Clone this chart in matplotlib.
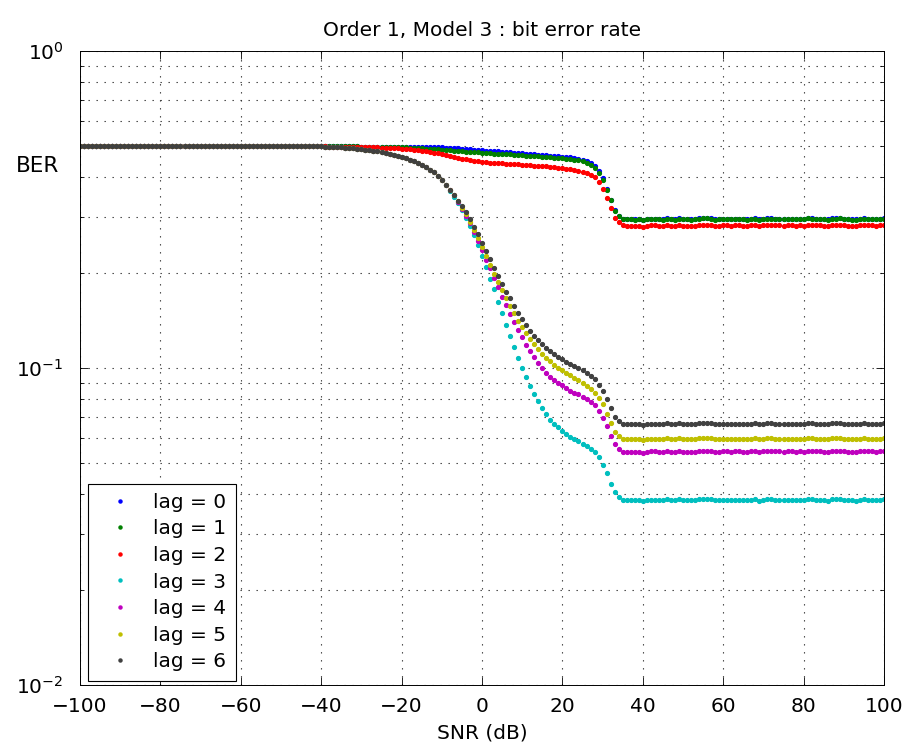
import matplotlib
matplotlib.use("Agg")
import matplotlib.pyplot as plt
from matplotlib.ticker import LogLocator, MultipleLocator, NullFormatter, LogFormatterSciNotation

plt.rcParams["font.family"] = ["DejaVu Sans"]
plt.rcParams["mathtext.fontset"] = "dejavusans"

# SNR grid (dB), one point per dB
snr = list(range(-100, 101))

# BER curves
ber_flat = [0.5] * 60  # -100 .. -41 dB, all lags sit at 0.5

ber_lag0 = ber_flat + [
    0.5000, 0.5000, 0.5000, 0.5000, 0.5000, 0.5000, 0.5000, 0.5000, 0.5000, 0.5000,
    0.4996, 0.4996, 0.4996, 0.4993, 0.4993, 0.4993, 0.4993, 0.4989, 0.4989, 0.4989,
    0.4989, 0.4985, 0.4985, 0.4985, 0.4982, 0.4982, 0.4978, 0.4978, 0.4975, 0.4971,
    0.4967, 0.4960, 0.4953, 0.4946, 0.4935, 0.4924, 0.4913, 0.4899, 0.4888, 0.4874,
    0.4863, 0.4853, 0.4842, 0.4832, 0.4822, 0.4811, 0.4801, 0.4790, 0.4780, 0.4770,
    0.4759, 0.4749, 0.4739, 0.4725, 0.4715, 0.4705, 0.4695, 0.4681, 0.4671, 0.4661,
    0.4646, 0.4633, 0.4619, 0.4596, 0.4573, 0.4546, 0.4497, 0.4433, 0.4338, 0.4197,
    0.3974, 0.3670, 0.3387, 0.3150, 0.3027, 0.2961,
] + [
    0.2951, 0.2951, 0.2945, 0.2951, 0.2930, 0.2951, 0.2957, 0.2957, 0.2951, 0.2945,
    0.2966, 0.2951, 0.2945, 0.2966, 0.2951, 0.2951, 0.2945, 0.2951, 0.2966, 0.2972,
    0.2972, 0.2966, 0.2945, 0.2951, 0.2957, 0.2957, 0.2951, 0.2957, 0.2957, 0.2951,
    0.2945, 0.2957, 0.2966, 0.2942, 0.2957, 0.2966, 0.2966, 0.2957, 0.2957, 0.2951,
    0.2957, 0.2957, 0.2951, 0.2957, 0.2951, 0.2972, 0.2966, 0.2957, 0.2957, 0.2951,
    0.2942, 0.2966, 0.2966, 0.2972, 0.2957, 0.2951, 0.2945, 0.2942, 0.2957, 0.2966,
    0.2957, 0.2957, 0.2951, 0.2957, 0.2966,
]

ber_lag1 = ber_flat + [
    0.5000, 0.5000, 0.5000, 0.5000, 0.5000, 0.5000, 0.5000, 0.5000, 0.5000, 0.5000,
    0.4996, 0.4996, 0.4993, 0.4993, 0.4989, 0.4989, 0.4985, 0.4982, 0.4978, 0.4975,
    0.4971, 0.4964, 0.4957, 0.4949, 0.4942, 0.4935, 0.4924, 0.4913, 0.4903, 0.4892,
    0.4881, 0.4870, 0.4860, 0.4849, 0.4839, 0.4828, 0.4818, 0.4807, 0.4797, 0.4787,
    0.4776, 0.4766, 0.4756, 0.4749, 0.4742, 0.4732, 0.4725, 0.4718, 0.4708, 0.4701,
    0.4691, 0.4681, 0.4671, 0.4661, 0.4650, 0.4640, 0.4630, 0.4620, 0.4610, 0.4596,
    0.4587, 0.4573, 0.4560, 0.4544, 0.4521, 0.4488, 0.4442, 0.4369, 0.4265, 0.4113,
    0.3904, 0.3643, 0.3376, 0.3139, 0.3016, 0.2951,
] + [
    0.2945, 0.2945, 0.2939, 0.2945, 0.2924, 0.2945, 0.2951, 0.2951, 0.2945, 0.2939,
    0.2960, 0.2945, 0.2939, 0.2960, 0.2945, 0.2945, 0.2939, 0.2945, 0.2960, 0.2966,
    0.2966, 0.2960, 0.2939, 0.2945, 0.2951, 0.2951, 0.2945, 0.2951, 0.2951, 0.2945,
    0.2939, 0.2951, 0.2960, 0.2936, 0.2951, 0.2960, 0.2960, 0.2951, 0.2951, 0.2945,
    0.2951, 0.2951, 0.2945, 0.2951, 0.2945, 0.2966, 0.2960, 0.2951, 0.2951, 0.2945,
    0.2936, 0.2960, 0.2960, 0.2966, 0.2951, 0.2945, 0.2939, 0.2936, 0.2951, 0.2960,
    0.2951, 0.2951, 0.2945, 0.2951, 0.2960,
]

ber_lag2 = ber_flat + [
    0.5000, 0.5000, 0.4996, 0.4996, 0.4996, 0.4993, 0.4993, 0.4989, 0.4989, 0.4985,
    0.4982, 0.4978, 0.4975, 0.4971, 0.4967, 0.4960, 0.4953, 0.4946, 0.4938, 0.4928,
    0.4917, 0.4906, 0.4892, 0.4878, 0.4860, 0.4842, 0.4822, 0.4801, 0.4776, 0.4752,
    0.4725, 0.4698, 0.4667, 0.4637, 0.4607, 0.4580, 0.4554, 0.4530, 0.4511, 0.4491,
    0.4475, 0.4462, 0.4449, 0.4439, 0.4430, 0.4420, 0.4414, 0.4407, 0.4401, 0.4391,
    0.4382, 0.4372, 0.4363, 0.4353, 0.4344, 0.4334, 0.4322, 0.4312, 0.4300, 0.4287,
    0.4275, 0.4259, 0.4241, 0.4219, 0.4192, 0.4158, 0.4116, 0.4066, 0.3992, 0.3861,
    0.3662, 0.3437, 0.3196, 0.2983, 0.2886, 0.2824,
] + [
    0.2811, 0.2811, 0.2805, 0.2811, 0.2791, 0.2811, 0.2817, 0.2817, 0.2811, 0.2805,
    0.2825, 0.2811, 0.2805, 0.2825, 0.2811, 0.2811, 0.2805, 0.2811, 0.2825, 0.2831,
    0.2831, 0.2825, 0.2805, 0.2811, 0.2817, 0.2817, 0.2811, 0.2817, 0.2817, 0.2811,
    0.2805, 0.2817, 0.2825, 0.2803, 0.2817, 0.2825, 0.2825, 0.2817, 0.2817, 0.2811,
    0.2817, 0.2817, 0.2811, 0.2817, 0.2811, 0.2831, 0.2825, 0.2817, 0.2817, 0.2811,
    0.2803, 0.2825, 0.2825, 0.2831, 0.2817, 0.2811, 0.2805, 0.2803, 0.2817, 0.2825,
    0.2817, 0.2817, 0.2811, 0.2817, 0.2825,
]

ber_lag3 = ber_flat + [
    0.5000, 0.4996, 0.4993, 0.4985, 0.4978, 0.4971, 0.4960, 0.4949, 0.4939, 0.4924,
    0.4906, 0.4888, 0.4870, 0.4849, 0.4825, 0.4800, 0.4773, 0.4742, 0.4707, 0.4670,
    0.4630, 0.4587, 0.4540, 0.4491, 0.4433, 0.4369, 0.4300, 0.4223, 0.4138, 0.4035,
    0.3905, 0.3765, 0.3617, 0.3462, 0.3315, 0.3150, 0.2983, 0.2804, 0.2621, 0.2443,
    0.2260, 0.2087, 0.1912, 0.1771, 0.1618, 0.1487, 0.1366, 0.1261, 0.1162, 0.1077,
    0.1002, 0.0934, 0.0879, 0.0828, 0.0785, 0.0748, 0.0717, 0.0685, 0.0667, 0.0650,
    0.0631, 0.0618, 0.0606, 0.0597, 0.0587, 0.0577, 0.0567, 0.0554, 0.0542, 0.0522,
    0.0494, 0.0465, 0.0431, 0.0406, 0.0393, 0.0384,
] + [
    0.03830, 0.03830, 0.03822, 0.03830, 0.03803, 0.03830, 0.03838, 0.03838, 0.03830, 0.03822,
    0.03849, 0.03830, 0.03822, 0.03849, 0.03830, 0.03830, 0.03822, 0.03830, 0.03849, 0.03857,
    0.03857, 0.03849, 0.03822, 0.03830, 0.03838, 0.03838, 0.03830, 0.03838, 0.03838, 0.03830,
    0.03822, 0.03838, 0.03849, 0.03819, 0.03838, 0.03849, 0.03849, 0.03838, 0.03838, 0.03830,
    0.03838, 0.03838, 0.03830, 0.03838, 0.03830, 0.03857, 0.03849, 0.03838, 0.03838, 0.03830,
    0.03819, 0.03849, 0.03849, 0.03857, 0.03838, 0.03830, 0.03822, 0.03819, 0.03838, 0.03849,
    0.03838, 0.03838, 0.03830, 0.03838, 0.03849,
]

ber_lag4 = ber_flat + [
    0.5000, 0.4996, 0.4993, 0.4985, 0.4978, 0.4971, 0.4960, 0.4949, 0.4939, 0.4924,
    0.4906, 0.4888, 0.4870, 0.4849, 0.4825, 0.4800, 0.4773, 0.4742, 0.4707, 0.4670,
    0.4630, 0.4587, 0.4540, 0.4491, 0.4433, 0.4369, 0.4300, 0.4223, 0.4138, 0.4035,
    0.3905, 0.3765, 0.3643, 0.3505, 0.3351, 0.3185, 0.3027, 0.2867, 0.2685, 0.2515,
    0.2356, 0.2199, 0.2063, 0.1927, 0.1797, 0.1678, 0.1576, 0.1483, 0.1396, 0.1320,
    0.1249, 0.1182, 0.1131, 0.1086, 0.1039, 0.0998, 0.0966, 0.0937, 0.0916, 0.0900,
    0.0884, 0.0863, 0.0848, 0.0835, 0.0826, 0.0812, 0.0798, 0.0781, 0.0764, 0.0733,
    0.0697, 0.0656, 0.0610, 0.0574, 0.0556, 0.0545,
] + [
    0.05450, 0.05450, 0.05439, 0.05450, 0.05412, 0.05450, 0.05461, 0.05461, 0.05450, 0.05439,
    0.05477, 0.05450, 0.05439, 0.05477, 0.05450, 0.05450, 0.05439, 0.05450, 0.05477, 0.05488,
    0.05488, 0.05477, 0.05439, 0.05450, 0.05461, 0.05461, 0.05450, 0.05461, 0.05461, 0.05450,
    0.05439, 0.05461, 0.05477, 0.05434, 0.05461, 0.05477, 0.05477, 0.05461, 0.05461, 0.05450,
    0.05461, 0.05461, 0.05450, 0.05461, 0.05450, 0.05488, 0.05477, 0.05461, 0.05461, 0.05450,
    0.05434, 0.05477, 0.05477, 0.05488, 0.05461, 0.05450, 0.05439, 0.05434, 0.05461, 0.05477,
    0.05461, 0.05461, 0.05450, 0.05461, 0.05477,
]

ber_lag5 = ber_flat + [
    0.5000, 0.4996, 0.4993, 0.4985, 0.4978, 0.4971, 0.4960, 0.4949, 0.4939, 0.4924,
    0.4906, 0.4888, 0.4870, 0.4849, 0.4825, 0.4800, 0.4773, 0.4742, 0.4707, 0.4670,
    0.4630, 0.4587, 0.4540, 0.4491, 0.4433, 0.4369, 0.4300, 0.4223, 0.4138, 0.4035,
    0.3905, 0.3765, 0.3643, 0.3505, 0.3360, 0.3208, 0.3060, 0.2898, 0.2734, 0.2570,
    0.2408, 0.2256, 0.2120, 0.1986, 0.1871, 0.1762, 0.1659, 0.1569, 0.1487, 0.1410,
    0.1350, 0.1286, 0.1232, 0.1188, 0.1145, 0.1107, 0.1077, 0.1050, 0.1024, 0.1002,
    0.0983, 0.0964, 0.0948, 0.0930, 0.0914, 0.0899, 0.0879, 0.0857, 0.0835, 0.0802,
    0.0770, 0.0717, 0.0670, 0.0629, 0.0610, 0.0597,
] + [
    0.05970, 0.05970, 0.05958, 0.05970, 0.05928, 0.05970, 0.05982, 0.05982, 0.05970, 0.05958,
    0.06000, 0.05970, 0.05958, 0.06000, 0.05970, 0.05970, 0.05958, 0.05970, 0.06000, 0.06012,
    0.06012, 0.06000, 0.05958, 0.05970, 0.05982, 0.05982, 0.05970, 0.05982, 0.05982, 0.05970,
    0.05958, 0.05982, 0.06000, 0.05952, 0.05982, 0.06000, 0.06000, 0.05982, 0.05982, 0.05970,
    0.05982, 0.05982, 0.05970, 0.05982, 0.05970, 0.06012, 0.06000, 0.05982, 0.05982, 0.05970,
    0.05952, 0.06000, 0.06000, 0.06012, 0.05982, 0.05970, 0.05958, 0.05952, 0.05982, 0.06000,
    0.05982, 0.05982, 0.05970, 0.05982, 0.06000,
]

ber_lag6 = ber_flat + [
    0.5000, 0.4996, 0.4993, 0.4985, 0.4978, 0.4971, 0.4960, 0.4949, 0.4939, 0.4924,
    0.4906, 0.4888, 0.4870, 0.4849, 0.4825, 0.4800, 0.4773, 0.4742, 0.4707, 0.4670,
    0.4630, 0.4587, 0.4540, 0.4491, 0.4433, 0.4369, 0.4300, 0.4223, 0.4138, 0.4035,
    0.3905, 0.3765, 0.3643, 0.3505, 0.3368, 0.3232, 0.3098, 0.2945, 0.2789, 0.2638,
    0.2486, 0.2338, 0.2201, 0.2070, 0.1949, 0.1843, 0.1739, 0.1657, 0.1567, 0.1489,
    0.1423, 0.1362, 0.1310, 0.1263, 0.1224, 0.1189, 0.1157, 0.1130, 0.1105, 0.1084,
    0.1064, 0.1045, 0.1030, 0.1015, 0.0998, 0.0984, 0.0965, 0.0942, 0.0922, 0.0887,
    0.0845, 0.0798, 0.0749, 0.0700, 0.0680, 0.0666,
] + [
    0.06660, 0.06660, 0.06647, 0.06660, 0.06613, 0.06660, 0.06673, 0.06673, 0.06660, 0.06647,
    0.06693, 0.06660, 0.06647, 0.06693, 0.06660, 0.06660, 0.06647, 0.06660, 0.06693, 0.06707,
    0.06707, 0.06693, 0.06647, 0.06660, 0.06673, 0.06673, 0.06660, 0.06673, 0.06673, 0.06660,
    0.06647, 0.06673, 0.06693, 0.06640, 0.06673, 0.06693, 0.06693, 0.06673, 0.06673, 0.06660,
    0.06673, 0.06673, 0.06660, 0.06673, 0.06660, 0.06707, 0.06693, 0.06673, 0.06673, 0.06660,
    0.06640, 0.06693, 0.06693, 0.06707, 0.06673, 0.06660, 0.06647, 0.06640, 0.06673, 0.06693,
    0.06673, 0.06673, 0.06660, 0.06673, 0.06693,
]

series = [ber_lag0, ber_lag1, ber_lag2, ber_lag3, ber_lag4, ber_lag5, ber_lag6]
labels = ["lag = 0", "lag = 1", "lag = 2", "lag = 3", "lag = 4", "lag = 5", "lag = 6"]
# cores classicas do MATLAB
cores = [(0, 0, 1), (0, 0.5, 0), (1, 0, 0), (0, 0.75, 0.75),
         (0.75, 0, 0.75), (0.75, 0.75, 0), (0.25, 0.25, 0.25)]

for s in series:
    assert len(s) == len(snr)

fig = plt.figure(figsize=(9.09, 7.46), dpi=100)
ax = fig.add_axes([80 / 909, 1 - 685 / 746, 804 / 909, 634 / 746])

for ber, lab, cor in zip(series, labels, cores):
    ax.plot(snr, ber, linestyle="none", marker=".", markersize=5.5,
            color=cor, label=lab)

ax.set_yscale("log")
ax.set_xlim(-100, 100)
ax.set_ylim(1e-2, 1e0)
ax.xaxis.set_major_locator(MultipleLocator(20))
ax.yaxis.set_major_locator(LogLocator(base=10))
ax.yaxis.set_minor_locator(LogLocator(base=10, subs=range(2, 10)))
ax.yaxis.set_minor_formatter(NullFormatter())
ax.yaxis.set_major_formatter(LogFormatterSciNotation())

grid_kw = dict(color="0.2", linewidth=0.8, linestyle=(0, (1.2, 6)))
ax.grid(True, which="major", **grid_kw)
ax.grid(True, which="minor", axis="y", **grid_kw)
ax.set_axisbelow(True)

ax.tick_params(which="both", direction="in", top=True, right=True,
               labelsize=14.5, width=0.6, colors="k")
ax.tick_params(axis="x", which="major", length=6, pad=9)
ax.tick_params(axis="y", which="major", length=6, pad=12)
ax.tick_params(which="minor", length=3)
for sp in ax.spines.values():
    sp.set_linewidth(0.7)
    sp.set_color("k")

ax.set_title("Order 1, Model 3 : bit error rate", fontsize=14.5, pad=11)
ax.set_xlabel("SNR (dB)", fontsize=14.5, labelpad=5)
ax.set_ylabel("BER", fontsize=15.5, rotation=0, ha="center", va="center")
ax.yaxis.set_label_coords(-0.053, 0.819)

leg = ax.legend(loc="lower left", bbox_to_anchor=(0.010, 0.007), fontsize=14.5,
                frameon=True, fancybox=False, edgecolor="k", framealpha=1,
                borderpad=0.45, labelspacing=0.38, handlelength=2.3,
                handletextpad=0.5, borderaxespad=0.0, markerscale=0.8)
leg.get_frame().set_linewidth(0.8)

fig.savefig("out.png", dpi=100)
